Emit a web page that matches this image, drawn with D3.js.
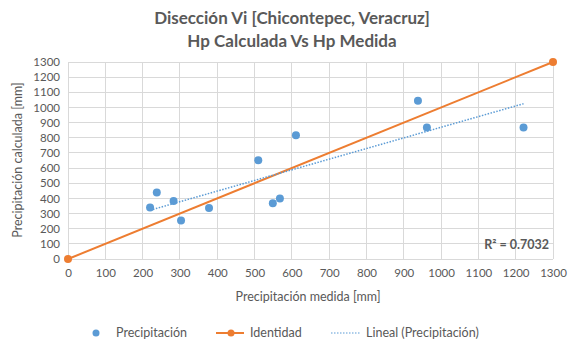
<!DOCTYPE html>
<html><head><meta charset="utf-8">
<script src="https://cdn.jsdelivr.net/npm/d3@7"></script>
<style>body{margin:0;background:#fff}svg{display:block}</style>
</head><body>
<script>
const medida = [220, 238, 283, 303, 378, 510, 549, 568, 611, 938, 962, 1221];
const calculada = [340, 439, 383, 254, 337, 652, 368, 399, 817, 1044, 868, 868];
const identidadX = [0, 1300];
const identidadY = [0, 1300];
const ticks = d3.range(0, 1301, 100);
const titleLines = ["Disección Vi [Chicontepec, Veracruz]", "Hp Calculada Vs Hp Medida"];
const r2Label = "R² = 0.7032";

const W = 570, H = 344;
const font = "Lato, 'Liberation Sans', sans-serif";
const txt = "#595959";
const svg = d3.select("body").append("svg").attr("width", W).attr("height", H);

const x = d3.scaleLinear().domain([0, 1300]).range([68, 553]);
const y = d3.scaleLinear().domain([0, 1300]).range([259, 62]);

// grid
svg.append("g").selectAll("line").data(ticks).join("line")
  .attr("x1", d => x(d)).attr("x2", d => x(d)).attr("y1", y(0)).attr("y2", y(1300))
  .attr("stroke", "#d9d9d9").attr("stroke-width", 1).attr("shape-rendering", "crispEdges");
svg.append("g").selectAll("line").data(ticks).join("line")
  .attr("y1", d => y(d)).attr("y2", d => y(d)).attr("x1", x(0)).attr("x2", x(1300))
  .attr("stroke", "#d9d9d9").attr("stroke-width", 1).attr("shape-rendering", "crispEdges");

// axes
const xa = svg.append("g").attr("transform", `translate(0,${y(0)})`)
  .call(d3.axisBottom(x).tickValues(ticks).tickFormat(d3.format("d")).tickSize(0).tickPadding(10));
xa.select(".domain").remove();
xa.selectAll("text").attr("fill", txt).style("font", `11.5px ${font}`);
const ya = svg.append("g").attr("transform", `translate(${x(0)},0)`)
  .call(d3.axisLeft(y).tickValues(ticks).tickFormat(d3.format("d")).tickSize(0).tickPadding(8));
ya.select(".domain").remove();
ya.selectAll("text").attr("fill", txt).style("font", `11.5px ${font}`);

// titles
svg.append("g").selectAll("text").data(titleLines).join("text")
  .attr("x", 292).attr("y", (d, i) => 24 + i * 23).attr("text-anchor", "middle")
  .attr("fill", txt).style("font", `bold 17px ${font}`).text(d => d);
svg.append("text").attr("x", 308).attr("y", 301).attr("text-anchor", "middle")
  .attr("fill", txt).style("font", `12.5px ${font}`).text("Precipitación medida [mm]");
svg.append("text").attr("transform", "translate(22,160) rotate(-90)").attr("text-anchor", "middle")
  .attr("fill", txt).style("font", `12.5px ${font}`).text("Precipitación calculada [mm]");

// identity line
const idData = identidadX.map((v, i) => [v, identidadY[i]]);
svg.append("path").datum(idData)
  .attr("d", d3.line().x(d => x(d[0])).y(d => y(d[1])))
  .attr("stroke", "#ED7D31").attr("stroke-width", 2).attr("fill", "none");
svg.append("g").selectAll("circle").data(idData).join("circle")
  .attr("cx", d => x(d[0])).attr("cy", d => y(d[1])).attr("r", 4).attr("fill", "#ED7D31");

// regression
const n = medida.length;
const mx = d3.mean(medida), my = d3.mean(calculada);
let sxy = 0, sxx = 0;
for (let i = 0; i < n; i++) { sxy += (medida[i] - mx) * (calculada[i] - my); sxx += (medida[i] - mx) ** 2; }
const b = sxy / sxx, a = my - b * mx;
const [x0, x1] = d3.extent(medida);
svg.append("line").attr("x1", x(x0)).attr("y1", y(a + b * x0)).attr("x2", x(x1)).attr("y2", y(a + b * x1))
  .attr("stroke", "#5B9BD5").attr("stroke-width", 1.5).attr("stroke-dasharray", "1.5,1.5");

// points
svg.append("g").selectAll("circle").data(medida).join("circle")
  .attr("cx", d => x(d)).attr("cy", (d, i) => y(calculada[i])).attr("r", 4).attr("fill", "#5B9BD5");

svg.append("text").attr("x", 549).attr("y", 249).attr("text-anchor", "end")
  .attr("fill", txt).style("font", `bold 12.5px ${font}`).text(r2Label);

// legend
const ly = 333;
const lg = svg.append("g");
const ls = `12.5px ${font}`;
lg.append("circle").attr("cx", 96).attr("cy", ly).attr("r", 3.5).attr("fill", "#5B9BD5");
lg.append("text").attr("x", 116).attr("y", ly + 4).attr("fill", txt).style("font", ls).text("Precipitación");
lg.append("line").attr("x1", 216).attr("x2", 244).attr("y1", ly).attr("y2", ly).attr("stroke", "#ED7D31").attr("stroke-width", 2);
lg.append("circle").attr("cx", 231).attr("cy", ly).attr("r", 3.5).attr("fill", "#ED7D31");
lg.append("text").attr("x", 250).attr("y", ly + 4).attr("fill", txt).style("font", ls).text("Identidad");
lg.append("line").attr("x1", 331).attr("x2", 361).attr("y1", ly).attr("y2", ly).attr("stroke", "#5B9BD5").attr("stroke-width", 1.2).attr("stroke-dasharray", "1.5,1.5");
lg.append("text").attr("x", 366).attr("y", ly + 4).attr("fill", txt).style("font", ls).text("Lineal (Precipitación)");
</script>
</body></html>
